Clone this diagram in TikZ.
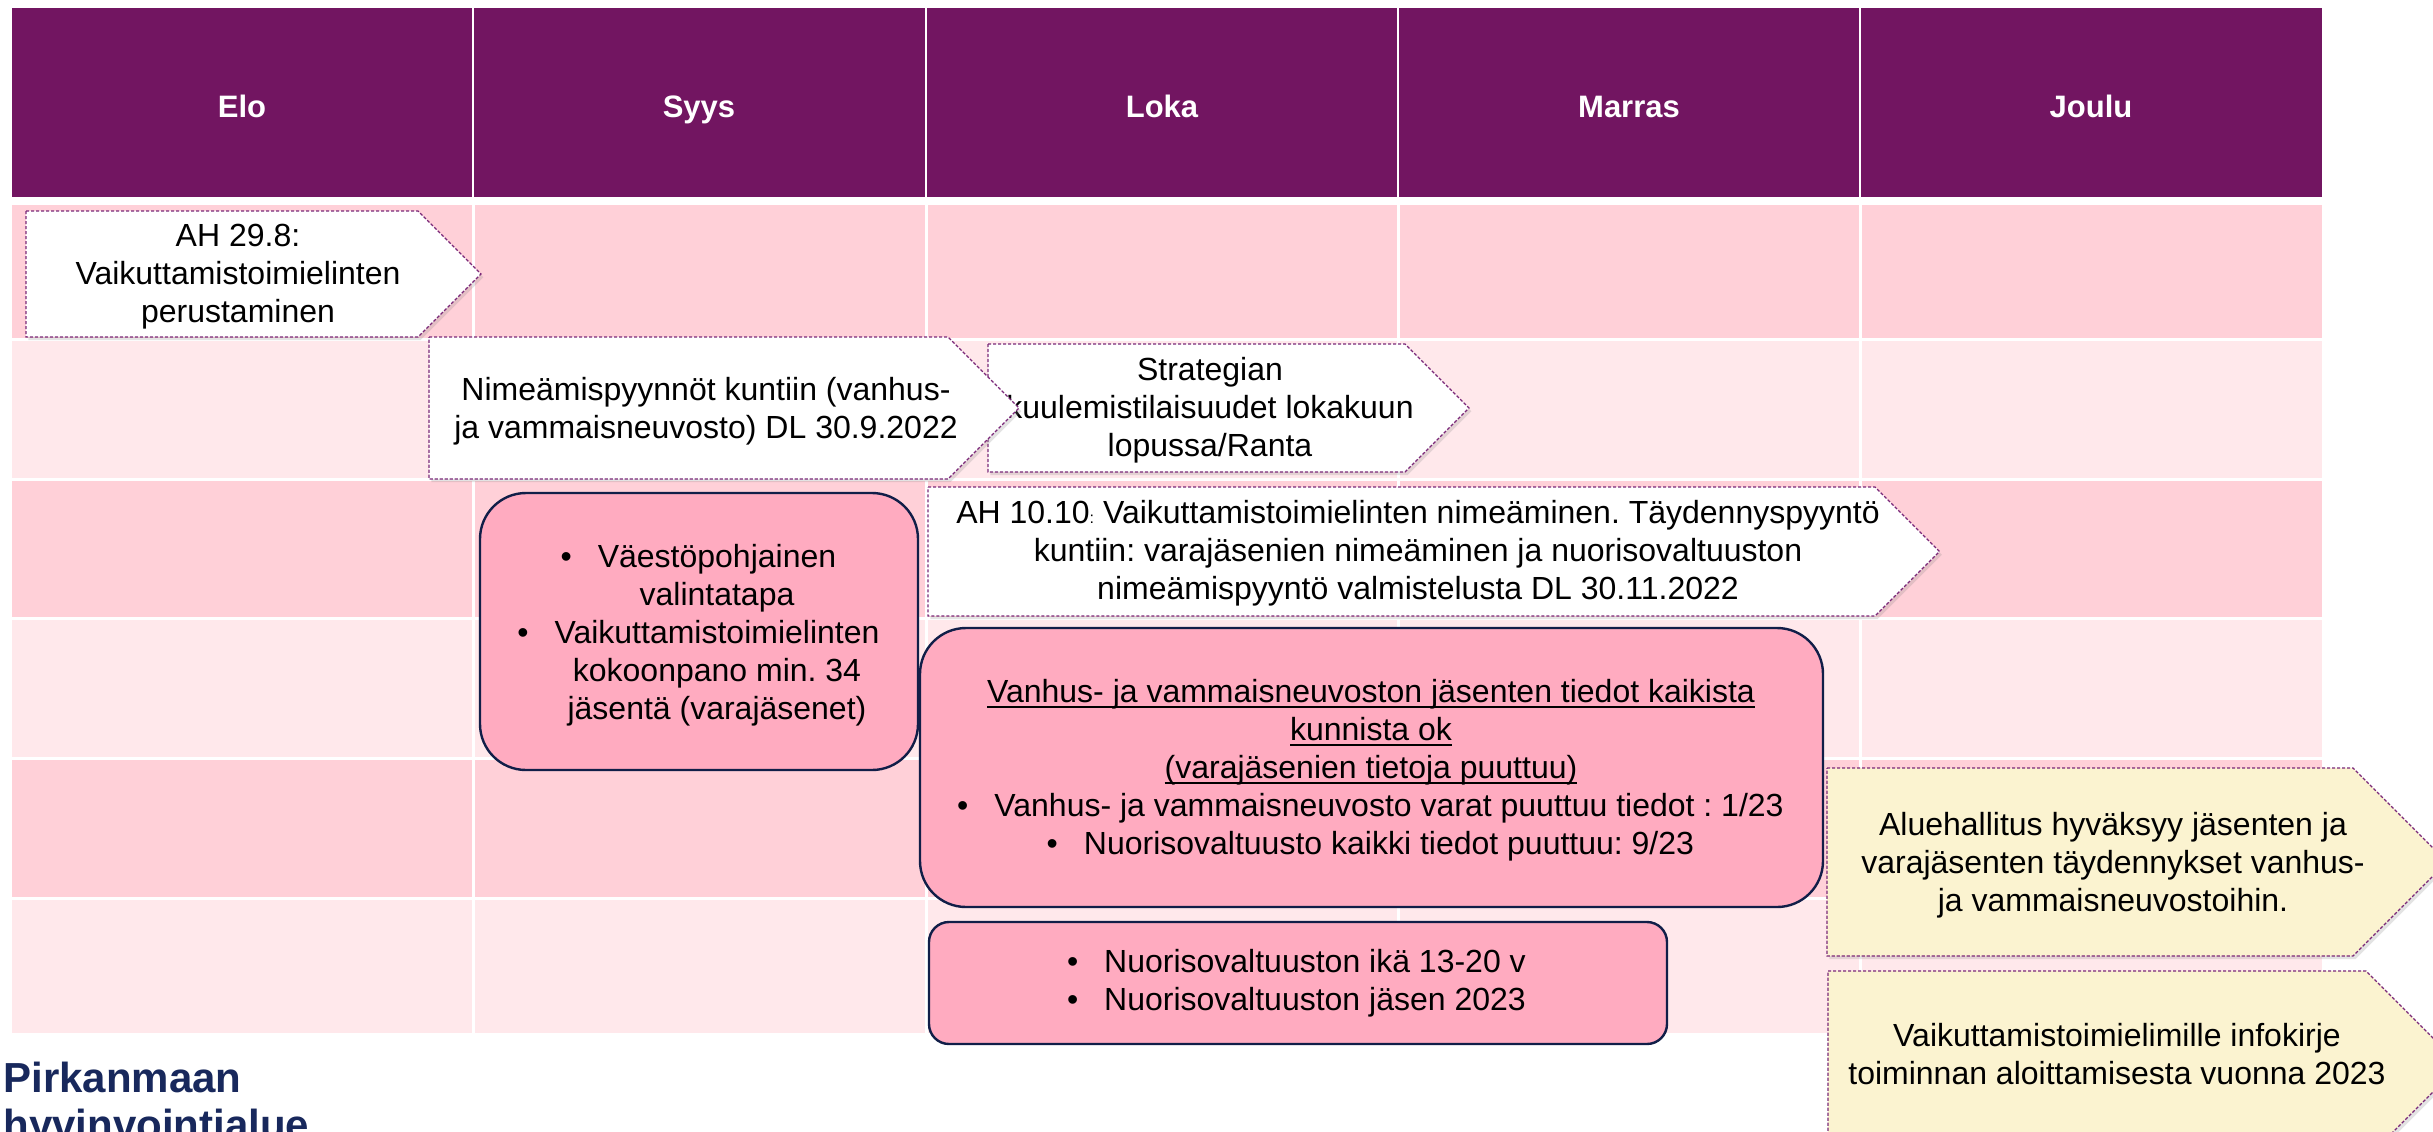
\documentclass[tikz,border=0pt]{standalone}
\usepackage{fontspec}
\setmainfont{Liberation Sans}
\usetikzlibrary{shadows}
\frenchspacing
\definecolor{hdrpurple}{RGB}{114,21,97}
\definecolor{rowdark}{RGB}{255,208,216}
\definecolor{rowlight}{RGB}{255,232,235}
\definecolor{boxpink}{RGB}{255,171,192}
\definecolor{boxnavy}{RGB}{17,30,72}
\definecolor{noteyellow}{RGB}{251,243,208}
\definecolor{dashpurple}{RGB}{122,40,120}
\definecolor{logonavy}{RGB}{24,40,92}
% pentagon arrow: style, left, top, body right, bottom
\newcommand{\platepath}[5]{%
  \path[#1] (#2,#3) -- (#4,#3) -- ({#4+(#5-#3)/2},{(#3+#5)/2}) -- (#4,#5) -- (#2,#5) -- cycle;}
\newcommand{\hbul}{\leavevmode\llap{\textbullet\hspace{13pt}}}
\newcommand{\myul}[1]{\leavevmode\setbox0=\hbox{#1}\rlap{\rule[-3pt]{\wd0}{0.9pt}}\box0}
\begin{document}
\begin{tikzpicture}[x=0.5pt,y=-0.5pt,
  body/.style={font=\frenchspacing\fontsize{16}{19}\selectfont, align=center, inner sep=0pt, text=black},
  hdr/.style={font=\fontsize{15.5}{18}\selectfont\bfseries, text=white, inner sep=0pt, anchor=base},
  logo/.style={font=\fontsize{21}{24}\selectfont\bfseries, text=logonavy, inner sep=0pt, anchor=base west},
  plate/.style={fill=white, draw=dashpurple, line width=0.6pt, dash pattern=on 1.6pt off 0.9pt,
    drop shadow={shadow xshift=1.2pt, shadow yshift=-1.6pt, opacity=0.22}},
  yplate/.style={plate, fill=noteyellow},
  rbox/.style={fill=boxpink, draw=boxnavy, line width=1.2pt, rounded corners=#1},
  rowa/.style={fill=rowdark},
  rowb/.style={fill=rowlight},
]
\useasboundingbox (0,0) rectangle (2433,1131);
\clip (0,0) rectangle (2433,1131);
\fill[white] (0,0) rectangle (2433,1131);

% table
\fill[hdrpurple] (12,8) rectangle (2322,197);
\fill[rowa] (12,205) rectangle (2322,338);
\fill[rowb] (12,341) rectangle (2322,478);
\fill[rowa] (12,481) rectangle (2322,617);
\fill[rowb] (12,620) rectangle (2322,757);
\fill[rowa] (12,760) rectangle (2322,897);
\fill[rowb] (12,900) rectangle (2322,1033);
\foreach \xx in {473,926,1398,1860} {
  \draw[white, line width=0.9pt] (\xx,8) -- (\xx,197);
  \draw[white, line width=1.5pt] (\xx,205) -- (\xx,1033);
}

\node[hdr] (elo) at (242,117) {Elo};
\node[hdr] (syys) at (699,117) {Syys};
\node[hdr] (loka) at (1162,117) {Loka};
\node[hdr] (marras) at (1629,117) {Marras};
\node[hdr] (joulu) at (2091,117) {Joulu};

% arrows
\platepath{plate}{26}{211}{418}{337}
\node[body] (ah298) at (238,277) {AH 29.8:\\Vaikuttamistoimielinten\\perustaminen};

\platepath{plate}{988}{344}{1405}{472}
\node[body] (strat) at (1210,410) {Strategian\\kuulemistilaisuudet lokakuun\\lopussa/Ranta};

\platepath{plate}{429}{337}{948}{479}
\node[body] (nimea) at (706,411) {Nimeämispyynnöt kuntiin (vanhus-\\ja vammaisneuvosto) DL 30.9.2022};

\platepath{plate}{928}{487}{1875}{616}
\node[body] (ah1010) at (1418,553) {AH 10.10{\fontsize{8}{8}\selectfont:} Vaikuttamistoimielinten nimeäminen. Täydennyspyyntö\\kuntiin: varajäsenien nimeäminen ja nuorisovaltuuston\\nimeämispyyntö valmistelusta DL 30.11.2022};

% rounded boxes
\draw[rbox=23pt] (480,493) rectangle (918,770);
\node[body] (vaesto) at (717,635) {\hbul Väestöpohjainen\\valintatapa\\\hbul Vaikuttamistoimielinten\\kokoonpano min. 34\\jäsentä (varajäsenet)};

\draw[rbox=23pt] (920,628) rectangle (1823,907);
\node[body] (tiedot) at (1371,770) {\myul{Vanhus- ja vammaisneuvoston jäsenten tiedot kaikista}\\\myul{kunnista ok}\\\myul{(varajäsenien tietoja puuttuu)}\\\hspace*{18pt}\hbul Vanhus- ja vammaisneuvosto varat puuttuu tiedot : 1/23\\\hspace*{18pt}\hbul Nuorisovaltuusto kaikki tiedot puuttuu: 9/23};

\draw[rbox=10pt] (929,922) rectangle (1667,1044);
\node[body] (nuoriso) at (1315,983) {\hbul Nuorisovaltuuston ikä 13-20 v\\\hbul Nuorisovaltuuston jäsen 2023};

% yellow arrows
\platepath{yplate}{1827}{768}{2353}{956}
\node[body] (aluehal) at (2113,865) {Aluehallitus hyväksyy jäsenten ja\\varajäsenten täydennykset vanhus-\\ja vammaisneuvostoihin.};
\platepath{yplate}{1828}{971}{2366}{1159}
\node[body] (infokirje) at (2117,1054) {Vaikuttamistoimielimille infokirje\\toiminnan aloittamisesta vuonna 2023};

% logo
\node[logo] (logo1) at (3,1092) {Pirkanmaan};
\node[logo] (logo2) at (3,1139) {hyvinvointialue};
\end{tikzpicture}
\end{document}
